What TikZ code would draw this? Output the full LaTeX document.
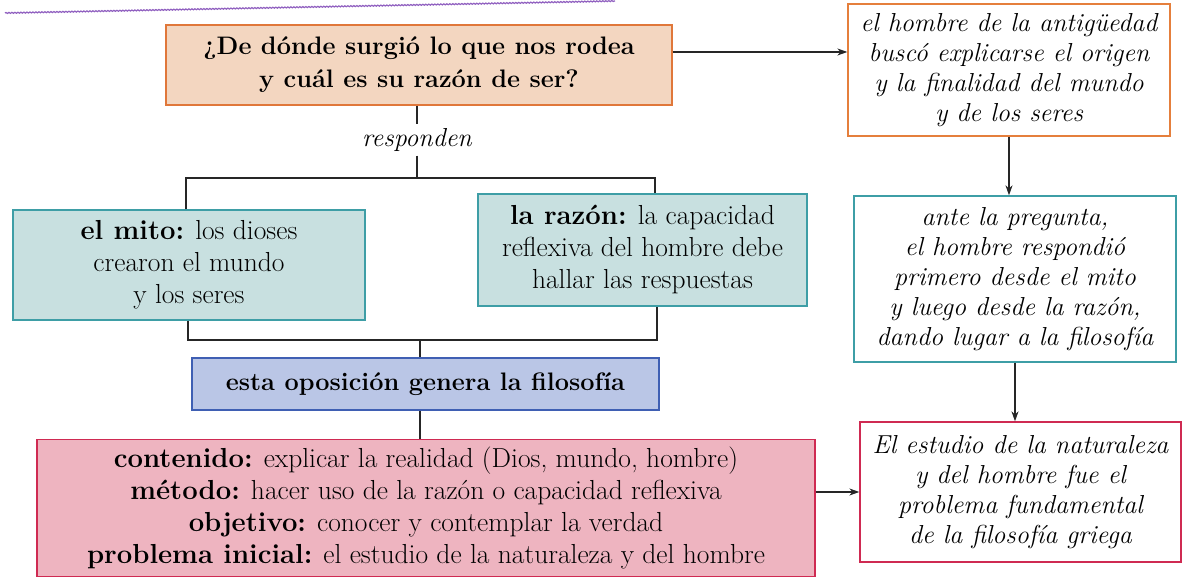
\documentclass[tikz,border=0pt]{standalone}
\usetikzlibrary{arrows.meta,decorations.pathmorphing}
\definecolor{qfill}{HTML}{F3D6C0}
\definecolor{qdraw}{HTML}{E0773A}
\definecolor{ordraw}{HTML}{E57F3C}
\definecolor{tfill}{HTML}{C8E0E0}
\definecolor{tdraw}{HTML}{3E9EA6}
\definecolor{bfill}{HTML}{BAC6E6}
\definecolor{bdraw}{HTML}{3F5FB3}
\definecolor{pfill}{HTML}{EEB4C0}
\definecolor{pdraw}{HTML}{CF2A52}
\definecolor{hdr}{HTML}{9060C0}
\begin{document}
\begin{tikzpicture}[x=1pt,y=1pt,
  box/.style={draw,line width=1.3pt,align=center,inner sep=0pt},
  conn/.style={line width=1.3pt,draw=black!85},
  arr/.style={conn,-{Stealth[length=10pt,width=7pt]}},
  rm/.style={font=\fontsize{27.5}{32}\selectfont},
  itx/.style={font=\itshape\fontsize{26}{30}\selectfont},
  bfx/.style={font=\bfseries\fontsize{25.3}{33}\selectfont}]
\fill[white] (0,0) rectangle (1186,585);
\useasboundingbox (0,0) rectangle (1186,585);
\draw[hdr,line width=1.2pt,decorate,decoration={snake,amplitude=0.5pt,segment length=3pt}] (5,572) -- (615,584);

\node[box,bfx,fill=qfill,draw=qdraw,minimum width=506pt,minimum height=80pt] (q) at (419,520)
  {¿De dónde surgió lo que nos rodea\\y cuál es su razón de ser?};
\node[box,itx,fill=white,draw=ordraw,minimum width=322pt,minimum height=132pt] (o) at (1009,515)
  {el hombre de la antigüedad\\buscó explicarse el origen\\y la finalidad del mundo\\y de los seres};
\node[box,itx,fill=white,draw=tdraw,minimum width=322pt,minimum height=166pt] (t) at (1015,306)
  {ante la pregunta,\\el hombre respondió\\primero desde el mito\\y luego desde la razón,\\dando lugar a la filosofía};
\node[box,itx,fill=white,draw=pdraw,minimum width=321pt,minimum height=140pt] (r) at (1020.5,93)
  {El estudio de la naturaleza\\y del hombre fue el\\problema fundamental\\de la filosofía griega};
\node[itx,inner sep=4pt] (resp) at (417,445) {responden};
\node[box,rm,fill=tfill,draw=tdraw,minimum width=352pt,minimum height=110pt] (mito) at (189,320)
  {\textbf{el mito:} los dioses\\crearon el mundo\\y los seres};
\node[box,rm,fill=tfill,draw=tdraw,minimum width=329pt,minimum height=112pt] (razon) at (642.5,335)
  {\textbf{la razón:} la capacidad\\reflexiva del hombre debe\\hallar las respuestas};
\node[box,bfx,fill=bfill,draw=bdraw,minimum width=467pt,minimum height=52pt] (b) at (425.5,201)
  {esta oposición genera la filosofía};
\node[box,rm,fill=pfill,draw=pdraw,minimum width=778pt,minimum height=137pt] (p) at (426,77)
  {\textbf{contenido:} explicar la realidad (Dios, mundo, hombre)\\
   \textbf{método:} hacer uso de la razón o capacidad reflexiva\\
   \textbf{objetivo:} conocer y contemplar la verdad\\
   \textbf{problema inicial:} el estudio de la naturaleza y del hombre};

\coordinate (tl) at (186,407);
\coordinate (tr) at (655,407);
\coordinate (tm) at (417,407);
\coordinate (bl) at (188,245);
\coordinate (br) at (657,245);
\coordinate (bm) at (420,245);

\draw[conn] (q.south -| resp) -- (resp.north);
\draw[conn] (resp.south) -- (tm);
\draw[conn] (mito.north -| tl) -- (tl) -- (tr) -- (razon.north -| tr);
\draw[conn] (mito.south -| bl) -- (bl) -- (br) -- (razon.south -| br);
\draw[conn] (bm) -- (b.north -| bm);
\draw[conn] (b.south -| bm) -- (p.north -| bm);
\draw[arr] ([yshift=13pt]q.east) -- ([yshift=13pt]q.east -| o.west);
\draw[arr] (o.south) -- (o.south |- t.north);
\draw[arr] (t.south) -- (t.south |- r.north);
\draw[arr] (p.east |- r.west) -- (r.west);
\end{tikzpicture}
\end{document}
